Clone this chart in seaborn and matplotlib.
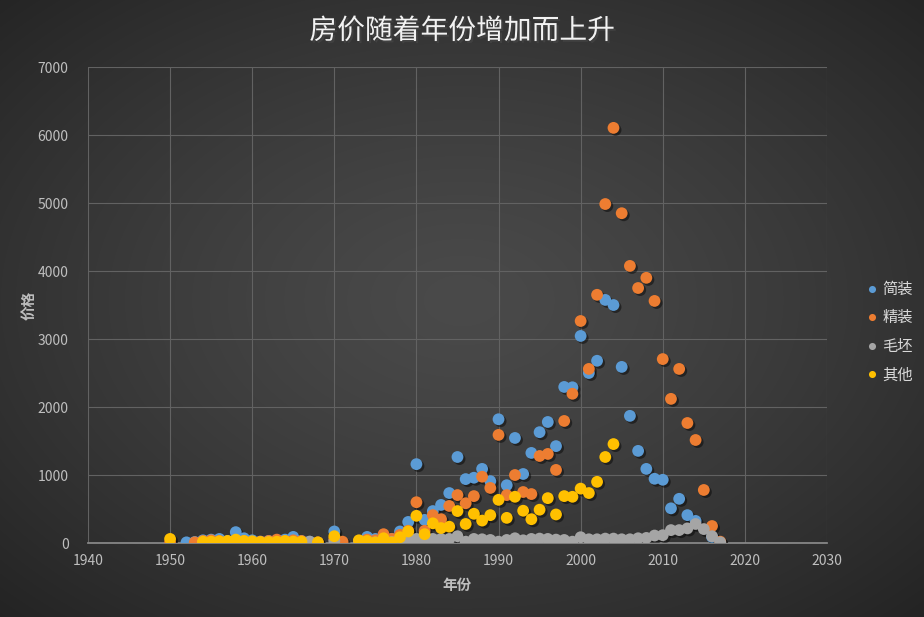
import numpy as np
import pandas as pd
import matplotlib
matplotlib.use("Agg")
import matplotlib.pyplot as plt
import matplotlib.patheffects as pe
import seaborn as sns

N = None
years = [1950] + list(range(1952, 1969)) + [1970, 1971] + list(range(1973, 2018))

# 1950, 1952..1968, 1970, 1971, 1973..1979, 1980..2017
jianzhuang = ([N] + [10, 15, 40, 50, 60, 30, 160, 70, 40, 20, 30, 40, 50, 90, 30, 20, N] + [170, N]
              + [20, 90, 60, 100, 60, 170, 310]
              + [1160, 340, 470, 560, 735, 1265, 940, 960, 1090, 910,
                 1820, 850, 1545, 1015, 1325, 1630, 1780, 1425, 2295, 2290,
                 3045, 2500, 2680, 3575, 3500, 2590, 1870, 1355, 1090, 945,
                 930, 510, 650, 410, 325, N, 90, N])
jingzhuang = ([5] + [N, 10, 30, 40, 30, 20, 40, 30, 20, 20, 30, 50, 30, 40, 30, N, 10] + [60, 20]
              + [30, 50, 40, 130, 60, 120, 180]
              + [600, 180, 410, 350, 545, 705, 585, 690, 975, 810,
                 1590, 705, 1000, 750, 720, 1280, 1310, 1075, 1795, 2195,
                 3265, 2560, 3650, 4985, 6105, 4850, 4075, 3750, 3900, 3560,
                 2705, 2120, 2560, 1765, 1515, 780, 250, 20])
maopi = ([N] + [N, N, 10, 10, 15, 10, 20, 10, 10, 10, 15, 10, 10, 15, 10, 20, N] + [30, N]
         + [10, 15, 10, 20, 15, 20, 30]
         + [60, 50, 60, 60, 60, 100, 20, 60, 55, 45,
            20, 45, 70, 40, 60, 65, 60, 50, 45, 20,
            85, 55, 55, 65, 65, 55, 55, 70, 75, 110,
            115, 190, 190, 215, 280, 205, 100, 10])
qita = ([60] + [N, N, 20, 20, 25, 30, 50, 30, 25, 15, 15, 20, 30, 20, 20, N, 10] + [100, N]
        + [40, 30, 10, 70, 10, 85, 170]
        + [400, 130, 290, 220, 240, 470, 280, 430, 330, 410,
           635, 370, 680, 475, 350, 490, 660, 420, 690, 680,
           800, 735, 900, 1265, 1455, N, N, N, N, N,
           N, N, N, N, N, N, N, N])

series_names = ["简装", "精装", "毛坯", "其他"]
colors = ["#5B9BD5", "#ED7D31", "#A5A5A5", "#FFC000"]
title = "房价随着年份增加而上升"
x_label = "年份"
y_label = "价格"

rows = []
for name, vals in zip(series_names, [jianzhuang, jingzhuang, maopi, qita]):
    for y, v in zip(years, vals):
        if v is not None:
            rows.append({"年份": y, "价格": v, "类型": name})
df = pd.DataFrame(rows)

sns.set_theme(style="dark")
plt.rcParams["font.family"] = ["Noto Sans CJK SC", "DejaVu Sans"]

fig = plt.figure(figsize=(9.24, 6.17), dpi=100)

# background gradient
bg = fig.add_axes([0, 0, 1, 1], zorder=-10)
yy, xx = np.mgrid[0:617, 0:924]
cx, cy = 462, 300
r = np.sqrt(((xx - cx) / 924) ** 2 + ((yy - cy) / 617) ** 2)
r = r / r.max()
val = 0.29 - 0.15 * r ** 1.3
img = np.dstack([val, val, val])
bg.imshow(img, aspect="auto", extent=[0, 1, 0, 1])
bg.axis("off")

ax = fig.add_axes([0.0952, 0.1199, 0.7998, 0.7715])
ax.set_facecolor((0, 0, 0, 0))
sns.scatterplot(data=df, x="年份", y="价格", hue="类型", hue_order=series_names,
                palette=colors, s=72, linewidth=0, ax=ax, legend=True, zorder=3)
for coll in ax.collections:
    coll.set_path_effects([pe.SimplePatchShadow(offset=(1.5, -1.5), shadow_rgbFace="black", alpha=0.45),
                           pe.Normal()])

ax.set_xlim(1940, 2030)
ax.set_ylim(0, 7000)
ax.set_xticks(range(1940, 2031, 10))
ax.set_yticks(range(0, 7001, 1000))
ax.grid(True, color="#626262", linewidth=0.8)
ax.set_axisbelow(True)
for s in ["top", "right", "left"]:
    ax.spines[s].set_visible(False)
ax.spines["bottom"].set_color("#8a8a8a")
ax.tick_params(axis="both", colors="#BFBFBF", labelsize=10, length=0)
ax.tick_params(axis="y", pad=14)
ax.tick_params(axis="x", pad=8)
ax.set_xlabel(x_label, color="#BFBFBF", fontsize=10.5, fontweight="bold", labelpad=6)
ax.set_ylabel(y_label, color="#BFBFBF", fontsize=10.5, fontweight="bold", labelpad=1)

fig.text(0.5, 0.950, title, ha="center", va="center", color="#F2F2F2", fontsize=20,
         path_effects=[pe.SimplePatchShadow(offset=(1.5, -1.5), alpha=0.6), pe.Normal()])

leg = ax.legend(loc="center left", bbox_to_anchor=(1.042, 0.443), frameon=False,
                fontsize=11, handlelength=0.8, handletextpad=0.3, labelspacing=0.75,
                markerscale=0.6, borderpad=0)
for t in leg.get_texts():
    t.set_color("#D9D9D9")

fig.savefig("out.png", dpi=100)
